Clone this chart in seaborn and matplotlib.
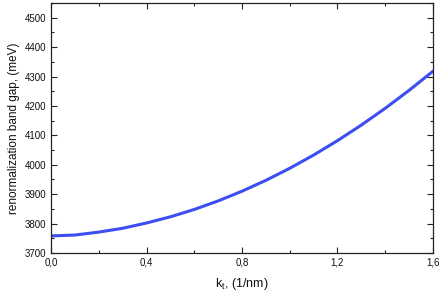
import pandas as pd
import matplotlib
matplotlib.use("Agg")
import matplotlib.pyplot as plt
import seaborn as sns
from matplotlib.ticker import MultipleLocator, FuncFormatter

# values
k_t = [0.0, 0.1, 0.2, 0.3, 0.4, 0.5, 0.6, 0.7, 0.8,
       0.9, 1.0, 1.1, 1.2, 1.3, 1.4, 1.5, 1.6]
gap_mev = [3758, 3761, 3771, 3784, 3802, 3823, 3848, 3877, 3910,
           3947, 3988, 4033, 4082, 4135, 4192, 4253, 4318]

df = pd.DataFrame({"k": k_t, "gap": gap_mev})

sns.set_style("ticks")
plt.rcParams["font.family"] = ["Liberation Sans", "DejaVu Sans"]

fig = plt.figure(figsize=(4.42, 2.94), dpi=100)
ax = fig.add_axes([0.1154, 0.1395, 0.8642, 0.8503])

sns.lineplot(x="k", y="gap", data=df, color="#3b4ef2", linewidth=2.2, ax=ax)

ax.set_xlim(0, 1.6)
ax.set_ylim(3700, 4550)
ax.xaxis.set_major_locator(MultipleLocator(0.4))
ax.xaxis.set_minor_locator(MultipleLocator(0.2))
ax.yaxis.set_major_locator(MultipleLocator(100))
ax.yaxis.set_minor_locator(MultipleLocator(50))
ax.xaxis.set_major_formatter(FuncFormatter(lambda v, p: f"{v:.1f}".replace(".", ",")))

ax.tick_params(which="both", direction="in", top=True, right=True,
               labelsize=7, width=0.8, color="#222222", labelcolor="#111111")
ax.tick_params(which="major", length=4)
ax.tick_params(which="minor", length=2.5)
for s in ax.spines.values():
    s.set_linewidth(0.9)
    s.set_color("#222222")

ax.set_xlabel("k$_\\mathregular{t}$, (1/nm)", fontsize=9, labelpad=6, color="#111111")
ax.set_ylabel("renormalization band gap, (meV)", fontsize=8.5, labelpad=3, color="#111111")

fig.savefig("out.png", dpi=100)
